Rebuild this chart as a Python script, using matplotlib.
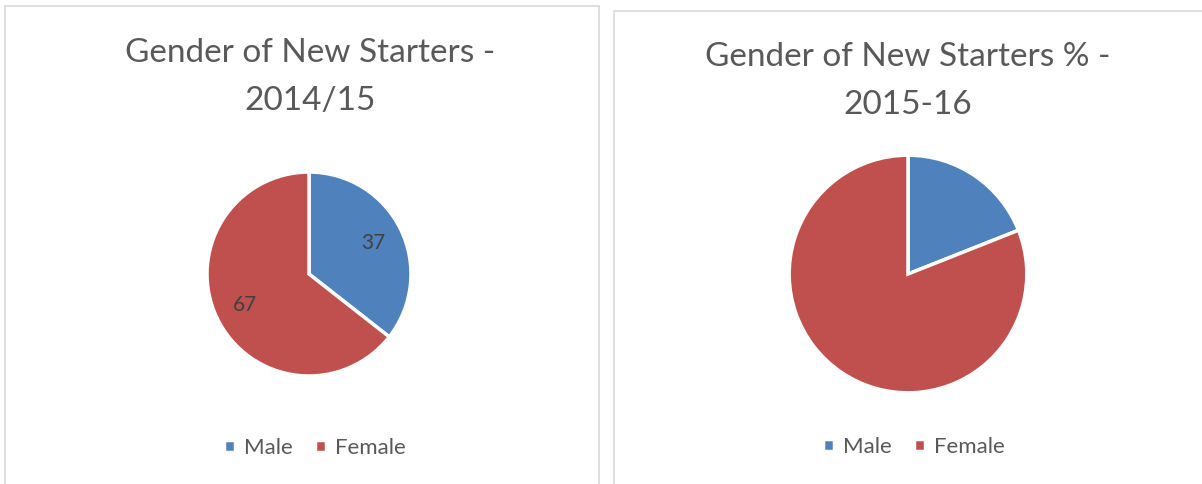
import matplotlib.pyplot as plt
from matplotlib.patches import Rectangle

# Data
labels = ["Male", "Female"]
values_1415 = [37, 67]
values_1516 = [19, 81]
colors = ["#4F81BD", "#C0504D"]
title_1415 = "Gender of New Starters -\n2014/15"
title_1516 = "Gender of New Starters % -\n2015-16"

text_color = "#595959"
plt.rcParams['font.family'] = ['Lato', 'DejaVu Sans']

W, H = 1202, 484
fig = plt.figure(figsize=(W / 100, H / 100), dpi=100)
fig.patch.set_facecolor("white")

# Panel borders (pixel coords -> figure coords)
def px_rect(x0, y0, x1, y1):
    return Rectangle((x0 / W, 1 - y1 / H), (x1 - x0) / W, (y1 - y0) / H,
                     transform=fig.transFigure, fill=False,
                     edgecolor="#D9D9D9", linewidth=1.2)

fig.patches.append(px_rect(5, 6, 599, 490))
fig.patches.append(px_rect(614, 11, 1210, 490))

def pie_axes(cx, cy, r):
    return fig.add_axes([(cx - r) / W, 1 - (cy + r) / H, 2 * r / W, 2 * r / H])

legend_kw = dict(loc="center", bbox_transform=fig.transFigure, ncol=2,
                 frameon=False, handlelength=0.5, handleheight=0.5,
                 columnspacing=1.0, handletextpad=0.4, fontsize=16,
                 labelcolor=text_color)

# Left chart
ax1 = pie_axes(309, 274, 103)
ax1.pie(values_1415, colors=colors, startangle=90, counterclock=False,
        wedgeprops=dict(edgecolor="white", linewidth=2.5),
        autopct=lambda p: "{:.0f}".format(p * sum(values_1415) / 100),
        pctdistance=0.7, textprops=dict(color="#404040", fontsize=15))
ax1.set_xlim(-1.01, 1.01)
ax1.set_ylim(-1.01, 1.01)
ax1.legend(labels, bbox_to_anchor=(315 / W, 1 - 448 / H), **legend_kw)

# Right chart
ax2 = pie_axes(908, 274, 120)
ax2.pie(values_1516, colors=colors, startangle=90, counterclock=False,
        wedgeprops=dict(edgecolor="white", linewidth=2.5))
ax2.set_xlim(-1.01, 1.01)
ax2.set_ylim(-1.01, 1.01)
ax2.legend(labels, bbox_to_anchor=(914 / W, 1 - 447 / H), **legend_kw)

# Titles (last-line baseline positioned)
fig.text(310 / W, 1 - 110 / H, title_1415, ha="center", va="baseline",
         fontsize=24, color=text_color, linespacing=1.75)
fig.text(908 / W, 1 - 114 / H, title_1516, ha="center", va="baseline",
         fontsize=24, color=text_color, linespacing=1.75)

fig.savefig("out.png", dpi=100)
